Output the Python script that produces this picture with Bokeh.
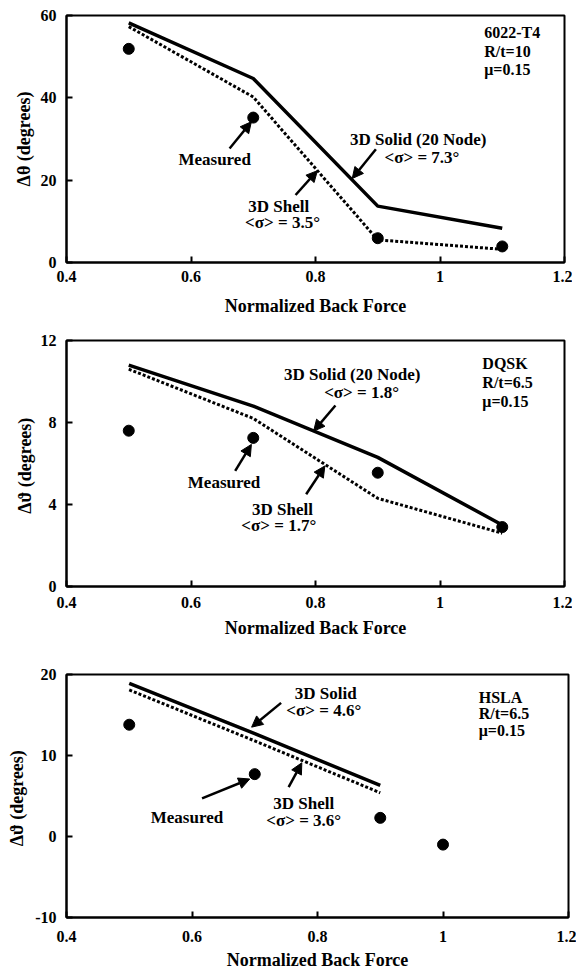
from bokeh.plotting import figure
from bokeh.layouts import column
from bokeh.models import Range1d, FixedTicker, Arrow, NormalHead, Label
from bokeh.embed import file_html
from bokeh.resources import INLINE

FONT = "Liberation Serif"

# shared x axis
x_ticks = [0.4, 0.6, 0.8, 1.0, 1.2]
x_tick_labels = ["0.4", "0.6", "0.8", "1", "1.2"]
x_title = "Normalized Back Force"

# Panel 1: 6022-T4
p1_x = [0.5, 0.7, 0.9, 1.1]
p1_solid = [58.2, 44.7, 13.7, 8.3]
p1_shell = [57.3, 40.2, 5.5, 3.2]
p1_meas_x = [0.5, 0.7, 0.9, 1.1]
p1_measured = [51.9, 35.2, 5.9, 3.9]
p1_y_ticks = [0, 20, 40, 60]
p1_y_tick_labels = ["0", "20", "40", "60"]
p1_info = ["6022-T4", "R/t=10", "\u03bc=0.15"]

# Panel 2: DQSK
p2_x = [0.5, 0.7, 0.9, 1.1]
p2_solid = [10.8, 8.8, 6.3, 3.0]
p2_shell = [10.6, 8.2, 4.3, 2.6]
p2_meas_x = [0.5, 0.7, 0.9, 1.1]
p2_measured = [7.6, 7.25, 5.55, 2.9]
p2_y_ticks = [0, 4, 8, 12]
p2_y_tick_labels = ["0", "4", "8", "12"]
p2_info = ["DQSK", "R/t=6.5", "\u03bc=0.15"]

# Panel 3: HSLA
p3_x = [0.5, 0.7, 0.9]
p3_solid = [18.9, 12.7, 6.3]
p3_shell = [18.1, 11.8, 5.4]
p3_meas_x = [0.5, 0.7, 0.9, 1.0]
p3_measured = [13.8, 7.7, 2.3, -1.0]
p3_y_ticks = [-10, 0, 10, 20]
p3_y_tick_labels = ["-10", "0", "10", "20"]
p3_info = ["HSLA", "R/t=6.5", "\u03bc=0.15"]


def label(p, x, y, text, align="center", size="17px"):
    p.add_layout(Label(x=x, y=y, text=text, text_align=align,
                       text_baseline="middle", text_font=FONT,
                       text_font_style="bold", text_font_size=size,
                       text_color="black"))


def arrow(p, x0, y0, x1, y1):
    p.add_layout(Arrow(end=NormalHead(size=11, fill_color="black",
                                      line_color="black", line_width=1),
                       x_start=x0, y_start=y0, x_end=x1, y_end=y1,
                       line_width=2.5, line_color="black"))


def make_panel(width, height, borders, y_lim, y_ticks, y_tick_labels, y_title,
               line_x, solid, shell, meas_x, measured, x_stand, x_lab_stand,
               y_lab_stand):
    left, right, top, bottom = borders
    p = figure(width=width, height=height, output_backend="svg",
               toolbar_location=None, x_range=Range1d(0.4, 1.2),
               y_range=Range1d(*y_lim),
               min_border_left=left, min_border_right=right,
               min_border_top=top, min_border_bottom=bottom)
    p.grid.visible = False
    p.outline_line_color = "black"
    p.outline_line_width = 2
    p.background_fill_color = "white"
    p.border_fill_color = "white"

    xa = p.xaxis[0]
    xa.ticker = FixedTicker(ticks=x_ticks)
    xa.major_label_overrides = dict(zip(x_ticks, x_tick_labels))
    xa.axis_label = x_title
    xa.axis_label_standoff = x_lab_stand
    xa.major_label_standoff = x_stand

    ya = p.yaxis[0]
    ya.ticker = FixedTicker(ticks=y_ticks)
    ya.major_label_overrides = dict(zip(y_ticks, y_tick_labels))
    ya.axis_label = y_title
    ya.axis_label_standoff = y_lab_stand
    ya.major_label_standoff = 10

    for ax in (xa, ya):
        ax.axis_line_color = "black"
        ax.axis_line_width = 2
        ax.major_tick_in = 6
        ax.major_tick_out = 0
        ax.major_tick_line_width = 2
        ax.major_tick_line_color = "black"
        ax.minor_tick_line_color = None
        ax.major_label_text_font = FONT
        ax.major_label_text_font_style = "bold"
        ax.major_label_text_font_size = "16px"
        ax.major_label_text_color = "black"
        ax.axis_label_text_font = FONT
        ax.axis_label_text_font_style = "bold"
        ax.axis_label_text_font_size = "18px"
        ax.axis_label_text_color = "black"

    p.line(line_x, solid, line_color="black", line_width=3.5)
    p.line(line_x, shell, line_color="black", line_width=3, line_dash="3 2")
    p.scatter(meas_x, measured, size=11, fill_color="black", line_color="black")
    return p


# ---------- Panel 1 ----------
p1 = make_panel(572, 321, (57, 8, 15, 59), (0, 60), p1_y_ticks, p1_y_tick_labels,
                "\u0394\u03b8 (degrees)", p1_x, p1_solid, p1_shell,
                p1_meas_x, p1_measured, 8, 11, 4)
for i, t in enumerate(p1_info):
    label(p1, 1.071, 55.8 - 4.5 * i, t, align="left", size="16px")
label(p1, 0.638, 25.0, "Measured")
arrow(p1, 0.662, 27.7, 0.697, 34.2)
label(p1, 0.965, 29.9, "3D Solid (20 Node)")
label(p1, 0.971, 25.5, "<\u03c3> = 7.3\u00b0")
arrow(p1, 0.897, 27.5, 0.859, 20.4)
label(p1, 0.741, 13.6, "3D Shell")
label(p1, 0.747, 9.7, "<\u03c3> = 3.5\u00b0")
arrow(p1, 0.768, 16.4, 0.803, 22.3)

# ---------- Panel 2 ----------
p2 = make_panel(572, 326, (57, 8, 19, 61), (0, 12), p2_y_ticks, p2_y_tick_labels,
                "\u0394\u03d1  (degrees)", p2_x, p2_solid, p2_shell,
                p2_meas_x, p2_measured, 10, 7, 3)
for i, t in enumerate(p2_info):
    label(p2, 1.068, 10.9 - 0.93 * i, t, align="left", size="16px")
label(p2, 0.859, 10.33, "3D Solid (20 Node)")
label(p2, 0.874, 9.44, "<\u03c3> = 1.8\u00b0")
arrow(p2, 0.832, 8.83, 0.797, 7.58)
label(p2, 0.653, 5.07, "Measured")
arrow(p2, 0.671, 5.64, 0.697, 6.93)
label(p2, 0.747, 3.77, "3D Shell")
label(p2, 0.741, 2.96, "<\u03c3> = 1.7\u00b0")
arrow(p2, 0.785, 4.50, 0.815, 5.88)

# ---------- Panel 3 ----------
p3 = make_panel(576, 325, (66, 6, 27, 54), (-10, 20), p3_y_ticks, p3_y_tick_labels,
                "\u0394\u03d1  (degrees)", p3_x, p3_solid, p3_shell,
                p3_meas_x, p3_measured, 13, 5, 5)
for i, t in enumerate(p3_info):
    label(p3, 1.057, 17.2 - 2.05 * i, t, align="left", size="16px")
label(p3, 0.813, 17.7, "3D Solid")
label(p3, 0.810, 15.5, "<\u03c3> = 4.6\u00b0")
arrow(p3, 0.742, 16.5, 0.695, 13.5)
label(p3, 0.592, 2.3, "Measured")
arrow(p3, 0.616, 4.7, 0.692, 7.1)
label(p3, 0.778, 4.1, "3D Shell")
label(p3, 0.778, 2.0, "<\u03c3> = 3.6\u00b0")
arrow(p3, 0.754, 6.1, 0.775, 9.1)

layout = column(p1, p2, p3, spacing=0)
open("out.html", "w").write(file_html(layout, INLINE))
